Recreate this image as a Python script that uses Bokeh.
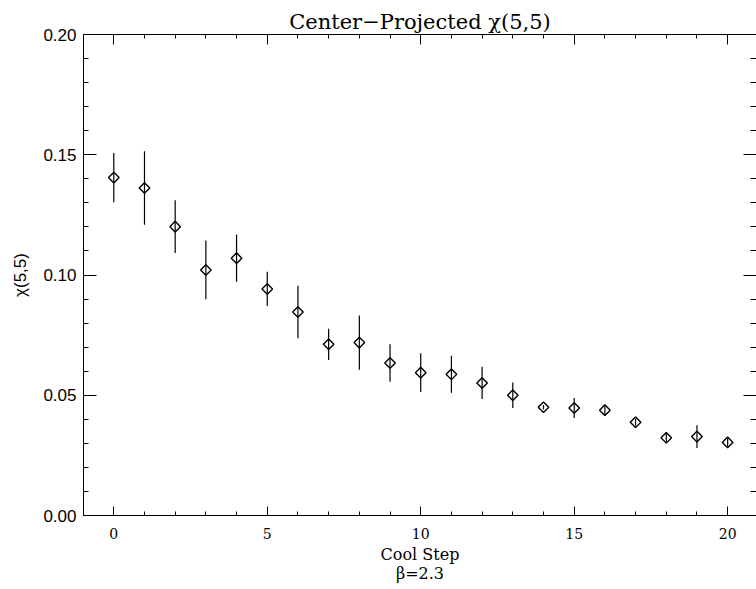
import math
from bokeh.plotting import figure
from bokeh.models import (Range1d, LinearAxis, FixedTicker, PrintfTickFormatter, CustomJSTickFormatter,
                          ColumnDataSource)
from bokeh.embed import file_html
from bokeh.resources import INLINE

# ---- data ----
cool_step = [0, 1, 2, 3, 4, 5, 6, 7, 8, 9, 10, 11, 12, 13, 14, 15, 16, 17, 18, 19, 20]
chi_values = [0.1405, 0.1362, 0.1201, 0.1021, 0.1070, 0.0942, 0.0846, 0.0712, 0.0719, 0.0634,
              0.0594, 0.0587, 0.0551, 0.0500, 0.0450, 0.0447, 0.0438, 0.0388, 0.0323, 0.0328, 0.0304]
chi_errors = [0.0102, 0.0153, 0.0110, 0.0122, 0.0098, 0.0071, 0.0109, 0.0065, 0.0113, 0.0078,
              0.0081, 0.0077, 0.0067, 0.0053, 0.0009, 0.0042, 0.0020, 0.0014, 0.0023, 0.0047, 0.0017]
x_major_ticks = [0, 5, 10, 15, 20]
x_minor_ticks = list(range(-1, 22))
y_major_ticks = [0.0, 0.05, 0.10, 0.15, 0.20]
y_minor_ticks = [i / 100 for i in range(0, 21)]
title_text = "Center\u2212Projected \u03c7(5,5)"
x_label = "Cool Step\n\u03b2=2.3"
y_label = "\u03c7(5,5)"

lo = [v - e for v, e in zip(chi_values, chi_errors)]
hi = [v + e for v, e in zip(chi_values, chi_errors)]
src = ColumnDataSource(dict(x=cool_step, y=chi_values, lo=lo, hi=hi))

serif = "DejaVu Serif"
sans = "Liberation Sans"

p = figure(width=756, height=589, output_backend="svg", toolbar_location=None,
           x_range=Range1d(-0.987, 20.94), y_range=Range1d(0.0, 0.2),
           x_axis_type=None, y_axis_type=None,
           min_border_left=83, min_border_right=0, min_border_top=34, min_border_bottom=74)
p.xgrid.visible = False
p.ygrid.visible = False
p.outline_line_color = None
p.background_fill_color = "white"
p.border_fill_color = "white"

p.title.text = title_text
p.title.align = "center"
p.title.text_font = serif
p.title.text_font_style = "normal"
p.title.text_font_size = "21px"
p.title.text_color = "black"
p.title.standoff = 2
p.title.offset = 0

def style_axis(ax, major_in, minor_in):
    ax.axis_line_color = "black"
    ax.axis_line_width = 1
    ax.major_tick_in = major_in
    ax.major_tick_out = 0
    ax.minor_tick_in = minor_in
    ax.minor_tick_out = 0
    ax.major_tick_line_color = "black"
    ax.minor_tick_line_color = "black"
    ax.major_label_text_color = "black"
    ax.axis_label_text_color = "black"

xt = FixedTicker(ticks=x_major_ticks, minor_ticks=x_minor_ticks)
yt = FixedTicker(ticks=y_major_ticks, minor_ticks=y_minor_ticks)
blank = CustomJSTickFormatter(code="return '';")

xb = LinearAxis(ticker=xt, formatter=PrintfTickFormatter(format="%d"))
style_axis(xb, 9, 4)
xb.major_label_text_font = serif
xb.major_label_text_font_size = "14px"
xb.major_label_standoff = 12
xb.axis_label = x_label
xb.axis_label_text_font = serif
xb.axis_label_text_font_style = "normal"
xb.axis_label_text_font_size = "16px"
xb.axis_label_text_line_height = 1.0
xb.axis_label_standoff = 3
p.add_layout(xb, "below")

xa = LinearAxis(ticker=xt, formatter=blank)
style_axis(xa, 10, 4)
xa.major_label_standoff = 0
p.add_layout(xa, "above")

yl = LinearAxis(ticker=yt, formatter=PrintfTickFormatter(format="%.2f"))
style_axis(yl, 13, 5)
yl.major_label_text_font = sans
yl.major_label_text_font_size = "17px"
yl.major_label_standoff = 7
yl.axis_label = y_label
yl.axis_label_text_font = sans
yl.axis_label_text_font_style = "normal"
yl.axis_label_text_font_size = "17px"
yl.axis_label_standoff = 10
p.add_layout(yl, "left")

yr = LinearAxis(ticker=yt, formatter=blank)
style_axis(yr, 13, 6)
yr.major_label_standoff = 0
p.add_layout(yr, "right")

p.segment(x0="x", y0="lo", x1="x", y1="hi", source=src, line_color="black", line_width=1.2)
p.scatter(x="x", y="y", source=src, marker="square", size=7.5, angle=math.pi / 4,
          fill_color=None, line_color="black", line_width=1.4)

open("out.html", "w").write(file_html(p, INLINE))
